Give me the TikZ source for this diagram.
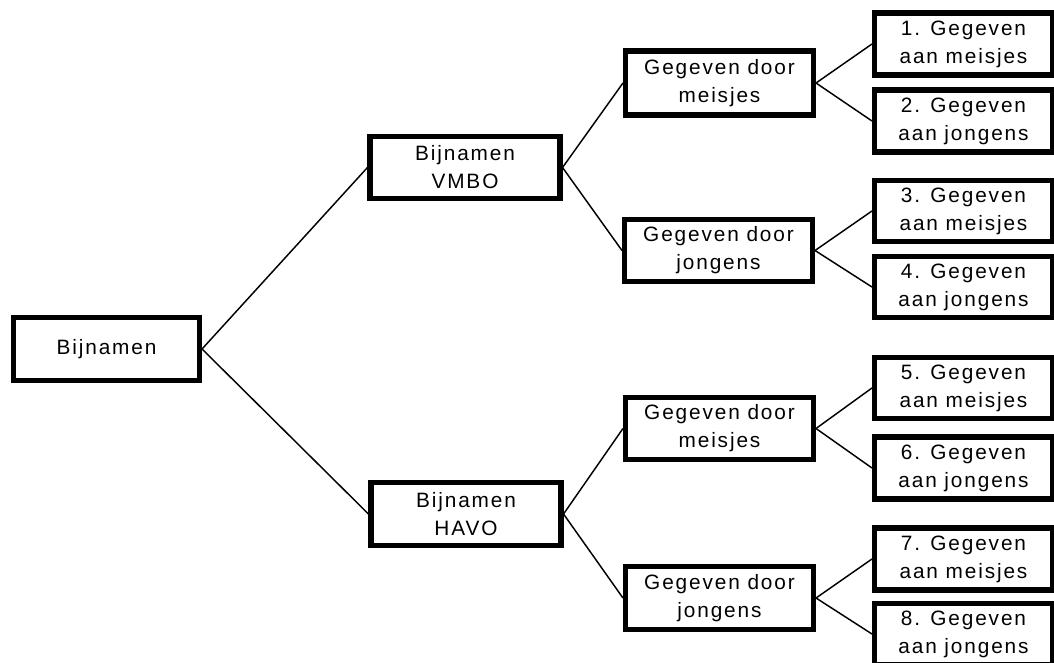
\documentclass[tikz,border=0pt]{standalone}
\usepackage{fontspec}
\setmainfont{Liberation Sans}[LetterSpace=9]
\begin{document}
\begin{tikzpicture}[x=0.75pt,y=-0.75pt,
  box/.style={draw=black, line width=3.8pt, fill=white, align=center, inner sep=0pt,
    font=\fontsize{15.6}{21}\selectfont},
  link/.style={draw=black, line width=1.1pt}]
\useasboundingbox (0,0) rectangle (1054,663);
\node[box, minimum width=186*0.75pt, minimum height=63*0.75pt] (root) at (106.5,349) {Bijnamen};
\node[box, minimum width=190*0.75pt, minimum height=62*0.75pt] (vmbo) at (465,167.5) {Bijnamen\\VMBO};
\node[box, minimum width=190*0.75pt, minimum height=63*0.75pt] (havo) at (466,514) {Bijnamen\\HAVO};
\node[box, minimum width=188*0.75pt, minimum height=64*0.75pt] (gm1) at (719.5,83) {Gegeven door\\meisjes};
\node[box, minimum width=188*0.75pt, minimum height=62*0.75pt] (gj1) at (718.5,250.5) {Gegeven door\\jongens};
\node[box, minimum width=188*0.75pt, minimum height=62*0.75pt] (gm2) at (719.5,428.5) {Gegeven door\\meisjes};
\node[box, minimum width=188*0.75pt, minimum height=63*0.75pt] (gj2) at (719.5,598) {Gegeven door\\jongens};
\node[box, minimum width=178*0.75pt, minimum height=62*0.75pt] (l1) at (963.5,44) {1. Gegeven\\aan meisjes};
\node[box, minimum width=178*0.75pt, minimum height=62*0.75pt] (l2) at (963.5,121) {2. Gegeven\\aan jongens};
\node[box, minimum width=178*0.75pt, minimum height=61*0.75pt] (l3) at (963.5,211) {3. Gegeven\\aan meisjes};
\node[box, minimum width=178*0.75pt, minimum height=61*0.75pt] (l4) at (963.5,287) {4. Gegeven\\aan jongens};
\node[box, minimum width=178*0.75pt, minimum height=61*0.75pt] (l5) at (963.5,388) {5. Gegeven\\aan meisjes};
\node[box, minimum width=178*0.75pt, minimum height=62*0.75pt] (l6) at (963.5,468) {6. Gegeven\\aan jongens};
\node[box, minimum width=178*0.75pt, minimum height=62*0.75pt] (l7) at (963.5,559) {7. Gegeven\\aan meisjes};
\node[box, minimum width=178*0.75pt, minimum height=61*0.75pt] (l8) at (963.5,634) {8. Gegeven\\aan jongens};
\draw[link] (root.east) -- (vmbo.west);
\draw[link] (root.east) -- (havo.west);
\draw[link] (vmbo.east) -- (gm1.west);
\draw[link] (vmbo.east) -- (gj1.west);
\draw[link] (havo.east) -- (gm2.west);
\draw[link] (havo.east) -- (gj2.west);
\draw[link] (gm1.east) -- (l1.west);
\draw[link] (gm1.east) -- (l2.west);
\draw[link] (gj1.east) -- (l3.west);
\draw[link] (gj1.east) -- (l4.west);
\draw[link] (gm2.east) -- (l5.west);
\draw[link] (gm2.east) -- (l6.west);
\draw[link] (gj2.east) -- (l7.west);
\draw[link] (gj2.east) -- (l8.west);
\end{tikzpicture}
\end{document}
